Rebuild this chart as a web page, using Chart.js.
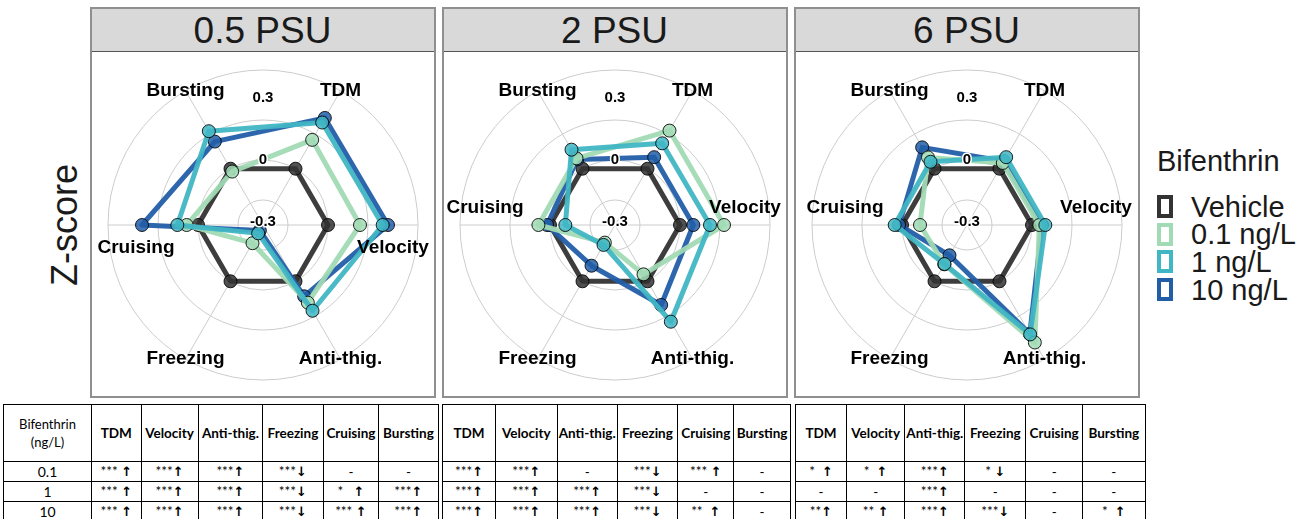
<!DOCTYPE html>
<html>
<head>
<meta charset="utf-8">
<script src="https://cdn.jsdelivr.net/npm/chart.js@4.4.1/dist/chart.umd.min.js"></script>
<style>
  body { margin: 0; width: 1311px; height: 519px; background: #fff; position: relative; overflow: hidden;
         font-family: 'Liberation Sans', Arial, sans-serif; }
  .panel { position: absolute; top: 7px; width: 346px; height: 391px; border: 2px solid #8f8f8f; box-sizing: border-box; }
  .strip { position: absolute; left: 0; top: 0; right: 0; height: 42px; background: #d9d9d9; border-bottom: 1px solid #555;
           text-align: center; font-size: 37px; line-height: 44px; color: #1a1a1a; }
  .plot { position: absolute; left: 0; top: 43px; width: 342px; height: 346px; }
  .ylab { position: absolute; left: 65px; top: 225px; transform: translate(-50%, -50%) rotate(-90deg);
          font-size: 36px; color: #1a1a1a; white-space: nowrap; }
  .legtitle { position: absolute; left: 1157px; top: 145px; font-size: 29px; line-height: 33px; color: #1a1a1a; }
  .legbox { position: absolute; left: 1157px; width: 16px; height: 23px; border: 4px solid; box-sizing: border-box; }
  .legtext { position: absolute; left: 1191px; font-size: 29px; line-height: 30px; color: #1a1a1a; white-space: nowrap; }
  table.sig { position: absolute; top: 404px; border-collapse: collapse; table-layout: fixed;
              font-family: Lato, 'Open Sans', sans-serif; font-size: 13.5px; color: #000; }
  table.sig td { border: 1px solid #000; text-align: center; padding: 0; white-space: pre; overflow: hidden; }
  table.sig tr.head td { height: 56px; font-weight: bold; }
  table.sig tr.head td.dose { font-weight: normal; line-height: 18px; font-size: 13px; }
  table.sig tr.row td { height: 18px; font-size: 13.5px; line-height: 18px; }
  table.sig tr.row td.dose { font-size: 14px; }
  .arr { font-family: 'DejaVu Sans', sans-serif; font-weight: bold; font-size: 13px; color: #000; }
</style>
</head>
<body>
<div class="ylab">Z-score</div>
<script>
// axes of every radar, clockwise from the upper right
const categories = ['TDM', 'Velocity', 'Anti-thig.', 'Freezing', 'Cruising', 'Bursting'];
const panelTitles = ['0.5 PSU', '2 PSU', '6 PSU'];
const seriesNames = ['Vehicle', '0.1 ng/L', '1 ng/L', '10 ng/L'];
const seriesColors = ['#333333', '#A1DAB4', '#41B6C4', '#225EA8'];

// z-scores, order of categories
const psu05Vehicle = [0, 0, 0, 0, 0, 0];
const psu05Dose01 = [0.25, 0.24, 0.185, -0.33, 0.085, -0.025];
const psu05Dose1 = [0.40, 0.41, 0.255, -0.415, 0.155, 0.325];
const psu05Dose10 = [0.44, 0.45, 0.13, -0.44, 0.42, 0.235];

const psu2Vehicle = [0, 0, 0, 0, 0, 0];
const psu2Dose01 = [0.33, 0.33, -0.06, -0.335, 0.087, 0.09];
const psu2Dose1 = [0.22, 0.225, 0.35, -0.315, -0.115, 0.165];
const psu2Dose10 = [0.10, 0.10, 0.205, -0.135, 0.022, 0.08];

const psu6Vehicle = [0, 0, 0, 0, 0, 0];
const psu6Dose01 = [0.05, 0.055, 0.53, -0.147, -0.135, 0.098];
const psu6Dose1 = [0.10, 0.10, 0.46, -0.15, 0.055, 0.06];
const psu6Dose10 = [0.065, 0.075, 0.455, -0.225, 0.022, 0.185];

const gridValues = [-0.3, 0, 0.3];
const gridLabels = ['-0.3', '0', '0.3'];
const scaleMin = -0.4875;
const scaleMax = 0.675;

// significance table below each panel
const doseLabels = ['0.1', '1', '10'];
const sig05 = [
  ['*** \u2191', '***\u2191', '***\u2191', '***\u2193', '-', '-'],
  ['*** \u2191', '***\u2191', '***\u2191', '***\u2193', '*   \u2191', '***\u2191'],
  ['*** \u2191', '***\u2191', '***\u2191', '***\u2193', '*** \u2191', '***\u2191']
];
const sig2 = [
  ['***\u2191', '***\u2191', '-', '***\u2193', '*** \u2191', '-'],
  ['***\u2191', '***\u2191', '***\u2191', '***\u2193', '-', '-'],
  ['***\u2191', '***\u2191', '***\u2191', '***\u2193', '**  \u2191', '-']
];
const sig6 = [
  ['*  \u2191', '*  \u2191', '***\u2191', '* \u2193', '-', '-'],
  ['-', '-', '***\u2191', '-', '-', '-'],
  ['**\u2191', '** \u2191', '***\u2191', '***\u2193', '-', '*  \u2191']
];

const panelSeries = [
  [psu05Vehicle, psu05Dose01, psu05Dose1, psu05Dose10],
  [psu2Vehicle, psu2Dose01, psu2Dose1, psu2Dose10],
  [psu6Vehicle, psu6Dose01, psu6Dose1, psu6Dose10]
];
const panelTables = [sig05, sig2, sig6];

// layout
const panelLeft = [89.5, 441.5, 793.5];
const sideLabel = [
  { right: 130, left: 127, dy: 23 },
  { right: 130, left: 130, dy: -17 },
  { right: 129, left: 122, dy: -17 }
];
const drawOrder = [4, 2, 1, 3];
const tableLeft = [3, 442, 795];
const tableCols = [
  [88, 49.6, 57, 64.7, 60.3, 55.7, 59.3],
  [53, 61.7, 60, 60.6, 56, 56.7],
  [51, 58.3, 60, 61, 56.7, 62.7]
];

function rgba(hex, a) {
  const n = parseInt(hex.slice(1), 16);
  return 'rgba(' + (n >> 16) + ',' + ((n >> 8) & 255) + ',' + (n & 255) + ',' + a + ')';
}

const radarText = {
  id: 'radarText',
  afterDatasetsDraw(chart, args, opts) {
    const s = chart.scales.r;
    const ctx = chart.ctx;
    const r0 = s.getDistanceFromCenterForValue(0);
    ctx.save();
    ctx.textAlign = 'center';
    ctx.textBaseline = 'middle';
    ctx.font = 'bold 15px "Liberation Sans", Arial, sans-serif';
    ctx.lineJoin = 'round';
    gridValues.forEach((v, i) => {
      const r = r0 + (s.getDistanceFromCenterForValue(v) - r0) * 1.55;
      const y = s.yCenter - r;
      ctx.lineWidth = 3;
      ctx.strokeStyle = '#fff';
      ctx.strokeText(gridLabels[i], s.xCenter, y);
      ctx.fillStyle = '#000';
      ctx.fillText(gridLabels[i], s.xCenter, y);
    });
    ctx.font = 'bold 19px "Liberation Sans", Arial, sans-serif';
    ctx.fillStyle = '#000';
    categories.forEach((c, i) => {
      let p;
      if (i === 1) {
        p = s.getPointPosition(i, opts.right);
        p.y += opts.dy;
      } else if (i === 4) {
        p = s.getPointPosition(i, opts.left);
        p.y += opts.dy;
      } else {
        p = s.getPointPosition(i, s.drawingArea);
      }
      ctx.fillText(c, p.x, p.y);
    });
    ctx.restore();
  }
};

panelTitles.forEach((title, k) => {
  const panel = document.createElement('div');
  panel.className = 'panel';
  panel.style.left = panelLeft[k] + 'px';
  const strip = document.createElement('div');
  strip.className = 'strip';
  strip.textContent = title;
  panel.appendChild(strip);
  const plot = document.createElement('div');
  plot.className = 'plot';
  const canvas = document.createElement('canvas');
  canvas.width = 342;
  canvas.height = 346;
  plot.appendChild(canvas);
  panel.appendChild(plot);
  document.body.appendChild(panel);

  new Chart(canvas, {
    type: 'radar',
    data: {
      labels: categories,
      datasets: panelSeries[k].map((vals, i) => ({
        label: seriesNames[i],
        data: vals,
        borderColor: rgba(seriesColors[i], 0.95),
        backgroundColor: seriesColors[i],
        pointBackgroundColor: rgba(seriesColors[i], 0.85),
        pointBorderColor: 'rgba(0,0,0,0.85)',
        pointBorderWidth: 1,
        pointRadius: 6.5,
        borderWidth: 5,
        borderJoinStyle: 'round',
        fill: false,
        tension: 0,
        order: drawOrder[i]
      }))
    },
    options: {
      responsive: false,
      animation: false,
      layout: { padding: { left: 16, right: 16, top: 18, bottom: 18 } },
      plugins: {
        legend: { display: false },
        tooltip: { enabled: false },
        radarText: sideLabel[k]
      },
      scales: {
        r: {
          min: scaleMin,
          max: scaleMax,
          startAngle: 30,
          afterBuildTicks: sc => { sc.ticks = gridValues.concat([scaleMax]).map(v => ({ value: v })); },
          ticks: { display: false },
          pointLabels: { display: false },
          grid: { circular: true, color: '#cccccc', lineWidth: 1 },
          angleLines: { color: '#cccccc', lineWidth: 1 }
        }
      }
    },
    plugins: [radarText]
  });
});

// legend
const legTitle = document.createElement('div');
legTitle.className = 'legtitle';
legTitle.textContent = 'Bifenthrin';
document.body.appendChild(legTitle);
seriesNames.forEach((name, i) => {
  const cy = 206.5 + i * 27.7;
  const box = document.createElement('div');
  box.className = 'legbox';
  box.style.top = (cy - 11.5) + 'px';
  box.style.borderColor = seriesColors[i];
  document.body.appendChild(box);
  const txt = document.createElement('div');
  txt.className = 'legtext';
  txt.style.top = (cy - 15) + 'px';
  txt.textContent = name;
  document.body.appendChild(txt);
});

// tables
function fillCell(td, v) {
  const arrow = v.slice(-1);
  if (arrow === '\u2191' || arrow === '\u2193') {
    td.appendChild(document.createTextNode(v.slice(0, -1)));
    const sp = document.createElement('span');
    sp.className = 'arr';
    sp.textContent = arrow + '\uFE0E';
    td.appendChild(sp);
  } else {
    td.textContent = v;
  }
}

panelTables.forEach((rows, k) => {
  const table = document.createElement('table');
  table.className = 'sig';
  table.style.left = tableLeft[k] + 'px';
  const cols = tableCols[k];
  table.style.width = cols.reduce((a, b) => a + b, 0) + 'px';
  const cg = document.createElement('colgroup');
  cols.forEach(w => { const c = document.createElement('col'); c.style.width = w + 'px'; cg.appendChild(c); });
  table.appendChild(cg);
  const head = document.createElement('tr');
  head.className = 'head';
  if (k === 0) {
    const td = document.createElement('td');
    td.className = 'dose';
    td.innerHTML = 'Bifenthrin<br>(ng/L)';
    head.appendChild(td);
  }
  categories.forEach(c => { const td = document.createElement('td'); td.textContent = c; head.appendChild(td); });
  table.appendChild(head);
  rows.forEach((r, j) => {
    const tr = document.createElement('tr');
    tr.className = 'row';
    if (k === 0) {
      const td = document.createElement('td');
      td.className = 'dose';
      td.textContent = doseLabels[j];
      tr.appendChild(td);
    }
    r.forEach(v => { const td = document.createElement('td'); fillCell(td, v); tr.appendChild(td); });
    table.appendChild(tr);
  });
  document.body.appendChild(table);
});
</script>
</body>
</html>
